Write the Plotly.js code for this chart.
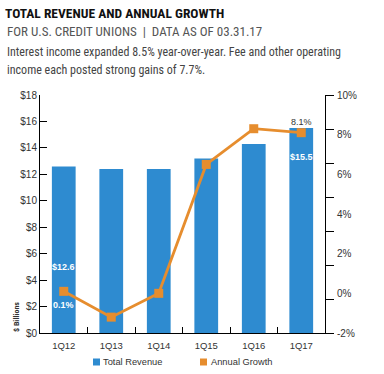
<!DOCTYPE html>
<html>
<head>
<meta charset="utf-8">
<script src="https://cdn.plot.ly/plotly-3.0.1.min.js"></script>
<style>html,body{margin:0;padding:0;background:#fff;}#chart{width:384px;height:374px;}</style>
</head>
<body>
<div id="chart"></div>
<script>
// ---- data ----
var quarters = ["1Q12", "1Q13", "1Q14", "1Q15", "1Q16", "1Q17"];
var totalRevenue = [12.6, 12.4, 12.4, 13.2, 14.3, 15.5];   // $ billions
var annualGrowth = [0.1, -1.2, 0.0, 6.5, 8.3, 8.1];          // percent
var revenueTicks = [0, 2, 4, 6, 8, 10, 12, 14, 16, 18];
var growthTicks = [-2, 0, 2, 4, 6, 8, 10];

// ---- layout helpers (pixel -> paper) ----
var L = 40, R = 325, T = 95, B = 333;
function px(x) { return (x - L) / (R - L); }
function py(y) { return (B - y) / (B - T); }

var BLUE = "#2e8bd0", ORANGE = "#e68d2e";
var COND = "'Roboto Condensed', 'DejaVu Sans Condensed', sans-serif";
var SANS = "'Liberation Sans', Arial, sans-serif";
var last = quarters.length - 1;

var traces = [
  {
    type: "bar", x: quarters, y: totalRevenue, name: "Total Revenue",
    marker: { color: BLUE }, yaxis: "y", showlegend: false, hoverinfo: "x+y"
  },
  {
    type: "scatter", mode: "lines+markers", x: quarters, y: annualGrowth, name: "Annual Growth",
    line: { color: ORANGE, width: 2.8 },
    marker: { color: ORANGE, symbol: "square", size: 9 },
    yaxis: "y2", showlegend: false, cliponaxis: false
  }
];

var annotations = [
  { text: "FOR U.S. CREDIT UNIONS  |  DATA AS OF 03.31.17", x: px(5), y: py(31), xref: "paper", yref: "paper",
    xanchor: "left", yanchor: "middle", showarrow: false, font: { family: COND, size: 13, color: "#555" } },
  { text: "Interest income expanded 8.5% year-over-year. Fee and other operating", x: px(5), y: py(52), xref: "paper", yref: "paper",
    xanchor: "left", yanchor: "middle", showarrow: false, font: { family: COND, size: 12, color: "#444" } },
  { text: "income each posted strong gains of 7.7%.", x: px(5), y: py(70), xref: "paper", yref: "paper",
    xanchor: "left", yanchor: "middle", showarrow: false, font: { family: COND, size: 12, color: "#444" } },
  { text: "<b>$ Billions</b>", x: px(16), y: py(317), xref: "paper", yref: "paper", textangle: -90,
    xanchor: "center", yanchor: "middle", showarrow: false, font: { family: COND, size: 8, color: "#333" } },
  // value labels
  { text: "<b>$" + totalRevenue[0].toFixed(1) + "</b>", x: quarters[0], y: 5.0, xref: "x", yref: "y",
    showarrow: false, font: { family: SANS, size: 9, color: "#fff" } },
  { text: "<b>$" + totalRevenue[last].toFixed(1) + "</b>", x: quarters[last], y: 13.3, xref: "x", yref: "y",
    showarrow: false, font: { family: SANS, size: 9, color: "#fff" } },
  { text: "<b>" + annualGrowth[0].toFixed(1) + "%</b>", x: quarters[0], y: -0.6, xref: "x", yref: "y2",
    showarrow: false, font: { family: SANS, size: 9, color: "#fff" } },
  { text: annualGrowth[last].toFixed(1) + "%", x: quarters[last], y: 8.65, xref: "x", yref: "y2",
    showarrow: false, font: { family: SANS, size: 9, color: "#333" } },
  // legend text
  { text: "Total Revenue", x: px(101), y: py(362), xref: "paper", yref: "paper",
    xanchor: "left", yanchor: "middle", showarrow: false, font: { family: SANS, size: 9.3, color: "#333" } },
  { text: "Annual Growth", x: px(209), y: py(362), xref: "paper", yref: "paper",
    xanchor: "left", yanchor: "middle", showarrow: false, font: { family: SANS, size: 9.3, color: "#333" } }
];

var shapes = [
  { type: "rect", xref: "paper", yref: "paper", x0: px(93), x1: px(100), y0: py(365.5), y1: py(358.5),
    fillcolor: BLUE, line: { width: 0 } },
  { type: "rect", xref: "paper", yref: "paper", x0: px(200), x1: px(207), y0: py(365.5), y1: py(358.5),
    fillcolor: ORANGE, line: { width: 0 } }
];

var layout = {
  width: 384, height: 374,
  margin: { l: L, r: 384 - R, t: T, b: 374 - B, pad: 0 },
  paper_bgcolor: "#fff", plot_bgcolor: "#fff",
  title: {
    text: "<b>TOTAL REVENUE AND ANNUAL GROWTH</b>",
    xref: "container", yref: "container", x: 5 / 384, xanchor: "left", y: 1 - 13 / 374, yanchor: "middle",
    font: { family: COND, size: 13.5, color: "#111" }
  },
  bargap: 0.5,
  showlegend: false,
  xaxis: {
    type: "category", showline: true, linecolor: "#000", linewidth: 1,
    ticks: "inside", ticklen: 6, tickcolor: "#000", tickson: "boundaries",
    showgrid: false, zeroline: false, ticklabelstandoff: 4,
    tickfont: { family: SANS, size: 9.5, color: "#333" }
  },
  yaxis: {
    range: [0, 18], tickvals: revenueTicks, ticktext: revenueTicks.map(function (v) { return "$" + v; }),
    showline: true, linecolor: "#000", linewidth: 1, ticks: "inside", ticklen: 7, tickcolor: "#000",
    showgrid: false, zeroline: false, tickfont: { family: SANS, size: 10, color: "#333" }
  },
  yaxis2: {
    range: [-2, 10], tickvals: growthTicks, ticktext: growthTicks.map(function (v) { return v + "%"; }),
    overlaying: "y", side: "right", showline: false, ticks: "outside", ticklen: 9,
    tickcolor: "rgba(0,0,0,0)", showgrid: false, zeroline: false,
    tickfont: { family: SANS, size: 10, color: "#333" }
  },
  yaxis3: {
    range: [0, 7], dtick: 1, overlaying: "y", side: "right", showline: true, linecolor: "#000", linewidth: 1,
    ticks: "outside", ticklen: 8, tickcolor: "#000", showticklabels: false, showgrid: false, zeroline: false
  },
  annotations: annotations,
  shapes: shapes
};

// helper trace on yaxis3: draws the right-hand axis line and its tick marks
traces.push({ type: "scatter", x: [quarters[0]], y: [null], yaxis: "y3", showlegend: false, hoverinfo: "skip" });

Plotly.newPlot("chart", traces, layout, { displayModeBar: false, staticPlot: true });
</script>
</body>
</html>
